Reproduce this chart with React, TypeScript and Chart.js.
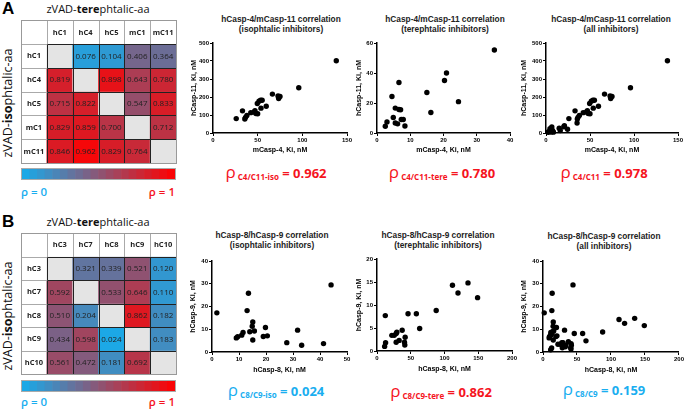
import React, { useEffect, useRef } from 'react';
import { Chart, registerables } from 'chart.js';
Chart.register(...registerables);

// ---------------- data ----------------
const heatA_cols = ['hC1', 'hC4', 'hC5', 'mC1', 'mC11'];
const heatA_vals: (number | null)[][] = [
  [null, 0.076, 0.104, 0.406, 0.364],
  [0.819, null, 0.898, 0.643, 0.780],
  [0.715, 0.822, null, 0.547, 0.833],
  [0.829, 0.859, 0.700, null, 0.712],
  [0.846, 0.962, 0.829, 0.764, null],
];
const heatB_cols = ['hC3', 'hC7', 'hC8', 'hC9', 'hC10'];
const heatB_vals: (number | null)[][] = [
  [null, 0.321, 0.339, 0.521, 0.120],
  [0.592, null, 0.533, 0.646, 0.110],
  [0.510, 0.204, null, 0.862, 0.182],
  [0.434, 0.598, 0.024, null, 0.183],
  [0.561, 0.472, 0.181, 0.692, null],
];
const colorbarSteps = 20;

const c4IsoX = [26, 33, 35.6, 36.4, 37.9, 42.3, 47, 48, 50, 46, 49.6, 51.5, 53.3, 55, 53.7, 59.6, 66.5, 72.8, 73.5, 75, 96, 138];
const c4IsoY = [80, 123, 78, 87, 97, 113, 124, 108, 107, 117, 164, 177, 182, 182, 138, 149, 216, 206, 192, 203, 251, 401];
const c4TereX = [2.5, 3, 4.5, 4.9, 5.5, 5.5, 6.2, 6.6, 6.6, 7.1, 7.3, 7.9, 8.4, 15, 16.2, 20.3, 20.9, 24.5, 35.3];
const c4TereY = [4.5, 7.4, 24.3, 10.3, 16.6, 6.7, 6.1, 33.7, 15.7, 15.5, 9, 9, 4.7, 27, 13.7, 35, 40, 20.9, 55.3];
const c8IsoX = [1.8, 9, 9.5, 11, 11.5, 13, 13.5, 14, 14.9, 15.1, 15.1, 15.7, 19, 19.8, 20.5, 27.7, 31.7, 33.2, 41.3, 44.1];
const c8IsoY = [17.2, 6.2, 6.7, 7.4, 8.6, 18.2, 25.8, 8.9, 11.3, 13.2, 5.3, 9.2, 6.8, 10.8, 7.1, 4.1, 9.6, 3, 3.7, 29.5];
const c8TereX = [11.3, 12.3, 12.7, 22, 25.5, 28.4, 29.4, 28.4, 32.8, 37.3, 40.7, 41.7, 41.2, 46, 58.3, 63.2, 87.7, 111.8, 120, 134.8, 149];
const c8TereY = [1.0, 7.7, 1.8, 3.4, 3.4, 3.8, 4.1, 1.9, 2.3, 4.5, 1.9, 3.0, 1.3, 8.1, 8.1, 4.9, 8.8, 14.3, 12.6, 14.8, 11.6];
const c4AllX = [...c4IsoX, ...c4TereX];
const c4AllY = [...c4IsoY, ...c4TereY];
const c8AllX = [...c8IsoX, ...c8TereX];
const c8AllY = [...c8IsoY, ...c8TereY];

const ticksC4x = [0, 50, 100, 150];
const ticksC4y = [0, 100, 200, 300, 400, 500];
const ticksC4TereX = [0, 10, 20, 30, 40];
const ticksC4TereY = [0, 20, 40, 60];
const ticksC8IsoX = [0, 10, 20, 30, 40, 50];
const ticksC8IsoY = [0, 10, 20, 30, 40];
const ticksC8TereX = [0, 50, 100, 150, 200];
const ticksC8TereY = [0, 5, 10, 15, 20];

const rhoLabels = ['C4/C11-iso', 'C4/C11-tere', 'C4/C11', 'C8/C9-iso', 'C8/C9-tere', 'C8/C9'];
const rhoValues = ['0.962', '0.780', '0.978', '0.024', '0.862', '0.159'];

// ---------------- styles ----------------
const BLUE = [22, 172, 236];
const RED = [255, 0, 0];
function rhoColor(v: number) {
  const c = BLUE.map((b, i) => Math.round(b + (RED[i] - b) * v));
  return `rgb(${c[0]},${c[1]},${c[2]})`;
}
const TXT_BLUE = '#1aaef0';
const TXT_RED = '#f5141e';
const SANS = '"Liberation Sans", Arial, sans-serif';
const OPEN = '"Open Sans", sans-serif';

// ---------------- heatmap ----------------
function Heatmap({ cols, vals, left, top, width, height }: any) {
  const ref = useRef<HTMLCanvasElement>(null);
  useEffect(() => {
    const n = cols.length + 1;
    const labels = ['', ...cols];
    const datasets: any[] = [];
    for (let r = 0; r < n; r++) {
      const bg: string[] = [];
      const txt: string[] = [];
      const bold: boolean[] = [];
      for (let c = 0; c < n; c++) {
        if (r === 0 || c === 0) {
          bg.push('#ffffff');
          txt.push(r === 0 ? labels[c] : labels[r]);
          bold.push(true);
        } else {
          const v = vals[r - 1][c - 1];
          if (v == null) { bg.push('#e4e4e4'); txt.push(''); }
          else { bg.push(rhoColor(v)); txt.push(v.toFixed(3)); }
          bold.push(false);
        }
      }
      datasets.push({
        data: labels.map(() => [r, r + 1]), backgroundColor: bg, borderWidth: 0,
        barPercentage: 1, categoryPercentage: 1, grouped: false, txt, bold,
      });
    }
    const plugin = {
      id: 'cells',
      afterDatasetsDraw(chart: any) {
        const ctx = chart.ctx;
        ctx.save();
        ctx.textAlign = 'center';
        ctx.textBaseline = 'middle';
        chart.data.datasets.forEach((ds: any, i: number) => {
          const meta = chart.getDatasetMeta(i);
          meta.data.forEach((el: any, j: number) => {
            const t = ds.txt[j];
            if (!t) return;
            ctx.font = ds.bold[j] ? `bold 7.5px ${OPEN}` : `8px ${OPEN}`;
            ctx.fillStyle = '#222';
            ctx.fillText(t, el.x, (el.y + el.base) / 2 + 0.5);
          });
        });
        const xs = chart.scales.x, ys = chart.scales.y;
        const xb = Array.from({ length: n + 1 }, (_, j) => Math.round(xs.getPixelForValue(j - 0.5)) + 0.5);
        const yb = Array.from({ length: n + 1 }, (_, r) => Math.round(ys.getPixelForValue(r)) + 0.5);
        ctx.lineWidth = 1;
        const seg = (x1: number, y1: number, x2: number, y2: number, col: string) => {
          ctx.strokeStyle = col; ctx.beginPath(); ctx.moveTo(x1, y1); ctx.lineTo(x2, y2); ctx.stroke();
        };
        for (let j = 1; j < n; j++) {
          seg(xb[j], yb[0], xb[j], yb[1], '#aaaaaa');
          seg(xb[j], yb[1], xb[j], yb[n], '#222222');
        }
        for (let r = 1; r < n; r++) {
          seg(xb[0], yb[r], xb[1], yb[r], '#aaaaaa');
          seg(xb[1], yb[r], xb[n], yb[r], '#222222');
        }
        ctx.strokeStyle = '#999999';
        ctx.strokeRect(xb[0], yb[0], xb[n] - xb[0], yb[n] - yb[0]);
        ctx.restore();
      },
    };
    const ch = new Chart(ref.current!, {
      type: 'bar',
      data: { labels, datasets },
      options: {
        animation: false, responsive: false, maintainAspectRatio: false,
        layout: { padding: 1 },
        plugins: { legend: { display: false }, tooltip: { enabled: false } },
        scales: {
          x: { type: 'category', display: false, offset: true },
          y: { type: 'linear', display: false, min: 0, max: n, reverse: true },
        },
      } as any,
      plugins: [plugin],
    });
    return () => ch.destroy();
  }, []);
  return <canvas ref={ref} width={width} height={height}
    style={{ position: 'absolute', left, top, width, height }} />;
}

function ColorBar({ left, top, width, height }: any) {
  const ref = useRef<HTMLCanvasElement>(null);
  useEffect(() => {
    const steps = Array.from({ length: colorbarSteps }, (_, i) => (i + 0.5) / colorbarSteps);
    const ch = new Chart(ref.current!, {
      type: 'bar',
      data: {
        labels: steps.map((s) => s.toFixed(3)),
        datasets: [{ data: steps.map(() => 1), backgroundColor: steps.map(rhoColor), borderWidth: 0, barPercentage: 1, categoryPercentage: 1 }],
      },
      options: {
        animation: false, responsive: false, maintainAspectRatio: false,
        layout: { padding: 0 },
        plugins: { legend: { display: false }, tooltip: { enabled: false } },
        scales: { x: { display: false }, y: { display: false, min: 0, max: 1 } },
      } as any,
    });
    return () => ch.destroy();
  }, []);
  return (
    <div style={{ position: 'absolute', left, top, width, height, border: '1px solid #aaa' }}>
      <canvas ref={ref} width={width} height={height} style={{ display: 'block', width, height }} />
    </div>
  );
}

// ---------------- scatter ----------------
type SC = {
  xs: number[]; ys: number[]; xTicks: number[]; yTicks: number[];
  xTitle: string; yTitle: string; L: number; R: number; T: number; B: number; ytx: number; xty: number;
};
const AXT = 7; // axis title font size
function Scatter({ c }: { c: SC }) {
  const ref = useRef<HTMLCanvasElement>(null);
  const half = (AXT * 1.2) / 2;
  const left = Math.round(c.ytx - half);
  const top = c.T - 8;
  const width = Math.min(685, c.R + 7) - left;
  const height = Math.round(c.xty + half) - top;
  useEffect(() => {
    const tickFont = { family: SANS, size: 6, weight: 'bold' as const };
    const titleFont = { family: SANS, size: AXT, weight: 'bold' as const, lineHeight: 1.2 };
    const common = (ticks: number[]) => ({
      type: 'linear' as const, min: ticks[0], max: ticks[ticks.length - 1],
      afterBuildTicks: (s: any) => { s.ticks = ticks.map((v) => ({ value: v })); },
      ticks: { font: tickFont, color: '#000', padding: 1, maxRotation: 0, autoSkip: false },
      grid: { drawOnChartArea: false, drawTicks: true, tickLength: 3, color: '#000', lineWidth: 1 },
      border: { color: '#000', width: 1.5 },
    });
    const ch = new Chart(ref.current!, {
      type: 'scatter',
      data: {
        datasets: [{
          data: c.xs.map((x, i) => ({ x, y: c.ys[i] })), backgroundColor: '#000', borderColor: '#000',
          pointRadius: 2.7, pointHoverRadius: 2.7, borderWidth: 0, clip: false,
        }],
      },
      options: {
        animation: false, responsive: false, maintainAspectRatio: false,
        layout: { padding: { top: 8, right: width + left - c.R, left: 0, bottom: 0 } },
        plugins: { legend: { display: false }, tooltip: { enabled: false } },
        scales: {
          x: {
            ...common(c.xTicks),
            title: { display: true, text: c.xTitle, font: titleFont, color: '#000', padding: 0 },
            afterFit: (s: any) => { s.height = height - (c.B - top); },
          },
          y: {
            ...common(c.yTicks),
            title: { display: true, text: c.yTitle, font: titleFont, color: '#000', padding: 0 },
            afterFit: (s: any) => { s.width = c.L - left; },
          },
        },
      } as any,
    });
    return () => ch.destroy();
  }, []);
  return <canvas ref={ref} width={width} height={height}
    style={{ position: 'absolute', left, top, width, height }} />;
}

const scatters: SC[] = [
  { xs: c4IsoX, ys: c4IsoY, xTicks: ticksC4x, yTicks: ticksC4y, xTitle: 'mCasp-4, Ki, nM', yTitle: 'hCasp-11, Ki, nM', L: 213, R: 347, T: 43, B: 133, ytx: 194, xty: 150 },
  { xs: c4TereX, ys: c4TereY, xTicks: ticksC4TereX, yTicks: ticksC4TereY, xTitle: 'mCasp-4, Ki, nM', yTitle: 'hCasp-11, Ki, nM', L: 377, R: 510, T: 43, B: 133, ytx: 359, xty: 150 },
  { xs: c4AllX, ys: c4AllY, xTicks: ticksC4x, yTicks: ticksC4y, xTitle: 'mCasp-4, Ki, nM', yTitle: 'hCasp-11, Ki, nM', L: 546, R: 678, T: 43, B: 133, ytx: 524, xty: 150 },
  { xs: c8IsoX, ys: c8IsoY, xTicks: ticksC8IsoX, yTicks: ticksC8IsoY, xTitle: 'hCasp-8, Ki, nM', yTitle: 'hCasp-9, Ki, nM', L: 212, R: 347, T: 261, B: 352, ytx: 193, xty: 370 },
  { xs: c8TereX, ys: c8TereY, xTicks: ticksC8TereX, yTicks: ticksC8TereY, xTitle: 'hCasp-8, Ki, nM', yTitle: 'hCasp-9, Ki, nM', L: 377, R: 512, T: 259, B: 351, ytx: 359, xty: 369 },
  { xs: c8AllX, ys: c8AllY, xTicks: ticksC8TereX, yTicks: ticksC8IsoY, xTitle: 'hCasp-8, Ki, nM', yTitle: 'hCasp-9, Ki, nM', L: 543, R: 679, T: 261, B: 352, ytx: 524, xty: 370 },
];
const chartTitles = [
  ['hCasp-4/mCasp-11 correlation', '(isophtalic inhibitors)', 281, 19],
  ['hCasp-4/mCasp-11 correlation', '(terephtalic inhibitors)', 445, 19],
  ['hCasp-4/mCasp-11 correlation', '(all inhibitors)', 611, 19],
  ['hCasp-8/hCasp-9 correlation', '(isophtalic inhibitors)', 272, 235],
  ['hCasp-8/hCasp-9 correlation', '(terephtalic inhibitors)', 438, 235],
  ['hCasp-8/hCasp-9 correlation', '(all inhibitors)', 604, 236],
] as [string, string, number, number][];
const rhoPos = [[276, 172, TXT_RED], [442, 172, TXT_RED], [604, 172, TXT_RED], [276, 390, TXT_BLUE], [441, 391, TXT_RED], [604, 389, TXT_BLUE]] as [number, number, string][];

function Abs({ x, y, w, align, children, style }: any) {
  return <div style={{ position: 'absolute', left: x, top: y, width: w, textAlign: align || 'center', whiteSpace: 'nowrap', ...style }}>{children}</div>;
}

function Panel({ letter, cols, vals, y0 }: any) {
  return (
    <>
      <div style={{ position: 'absolute', left: 2, top: y0 - 1, fontFamily: SANS, fontWeight: 'bold', fontSize: 17, lineHeight: '20px' }}>{letter}</div>
      <Abs x={21} y={y0 + 2} w={154} style={{ fontFamily: OPEN, fontSize: 11, lineHeight: '14px', color: '#111' }}>
        zVAD-<b>tere</b>phtalic-aa
      </Abs>
      <div style={{ position: 'absolute', left: 8 - 70, top: y0 + 103 - 8, width: 140, height: 16, transform: 'rotate(-90deg)', textAlign: 'center', fontFamily: OPEN, fontSize: 12.5, lineHeight: '16px', color: '#111', whiteSpace: 'nowrap' }}>
        zVAD-<b>iso</b>phtalic-aa
      </div>
      <Heatmap cols={cols} vals={vals} left={20} top={y0 + 19} width={157} height={y0 === 0 ? 145 : 143} />
      <ColorBar left={21} top={y0 === 0 ? 168 : 380} width={153} height={10} />
      <Abs x={21} y={(y0 === 0 ? 192 : 402) - 8} w={60} align="left" style={{ fontFamily: OPEN, fontWeight: 600, fontSize: 11.5, lineHeight: '16px', color: TXT_BLUE }}>ρ = 0</Abs>
      <Abs x={115} y={(y0 === 0 ? 192 : 402) - 8} w={60} align="right" style={{ fontFamily: OPEN, fontWeight: 600, fontSize: 11.5, lineHeight: '16px', color: TXT_RED }}>ρ = 1</Abs>
    </>
  );
}

export default function App() {
  return (
    <div style={{ position: 'fixed', left: 0, top: 0, width: 685, height: 410, background: '#fff', overflow: 'hidden' }}>
      <Panel letter="A" cols={heatA_cols} vals={heatA_vals} y0={0} />
      <Panel letter="B" cols={heatB_cols} vals={heatB_vals} y0={213} />
      {scatters.map((c, i) => <Scatter key={i} c={c} />)}
      {chartTitles.map(([a, b, cx, cy], i) => (
        <Abs key={'t' + i} x={cx - 80} y={cy - 5} w={160} style={{ fontFamily: SANS, fontWeight: 'bold', fontSize: 8.3, lineHeight: '10px', color: '#222' }}>
          {a}<br />{b}
        </Abs>
      ))}
      {rhoPos.map(([cx, cy, col], i) => (
        <Abs key={'r' + i} x={cx - 70} y={cy - 11} w={140} style={{ color: col, lineHeight: '22px', fontFamily: OPEN }}>
          <span style={{ fontSize: 17 }}>ρ</span>
          <span style={{ fontSize: 8, fontWeight: 'bold', position: 'relative', top: 2 }}> {rhoLabels[i]}</span>
          <span style={{ fontSize: 13, fontWeight: 'bold' }}> = {rhoValues[i]}</span>
        </Abs>
      ))}
    </div>
  );
}
